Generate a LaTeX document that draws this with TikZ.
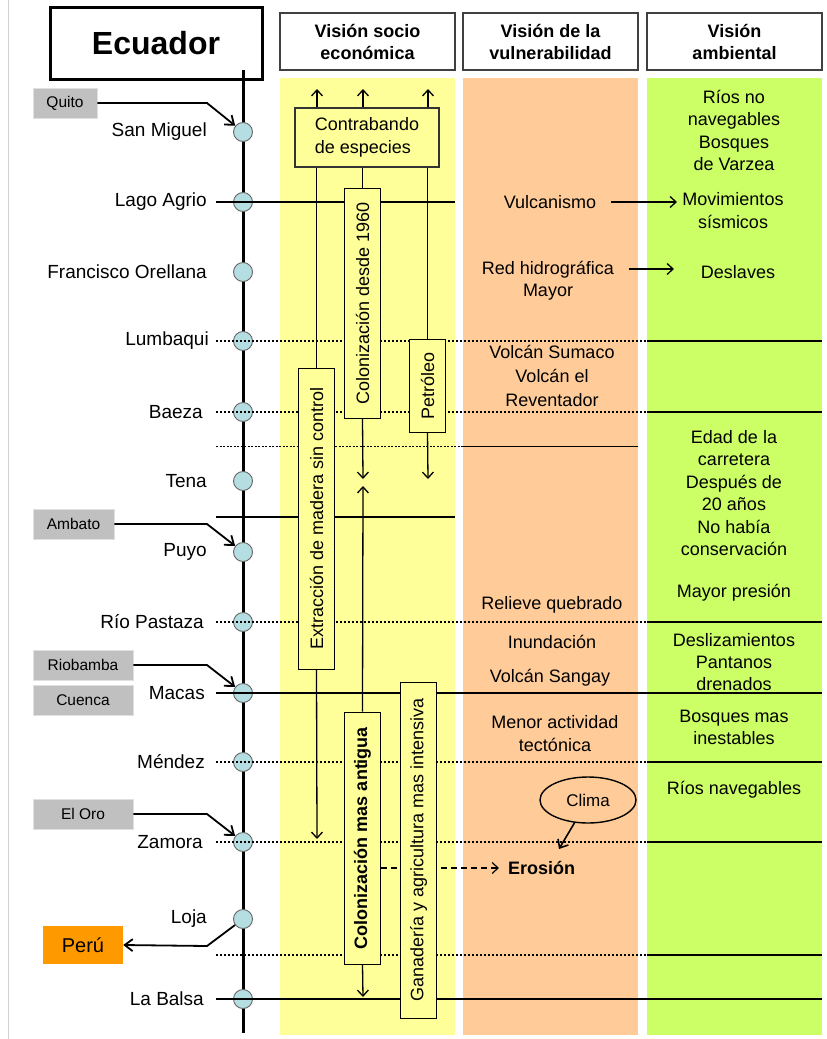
\documentclass[tikz,border=0pt]{standalone}
\usepackage{fontspec}
\setmainfont{Liberation Sans}
\usetikzlibrary{arrows.meta,shapes.geometric}
\definecolor{colY}{RGB}{255,255,153}
\definecolor{colO}{RGB}{255,204,153}
\definecolor{colG}{RGB}{204,255,102}
\definecolor{stn}{RGB}{180,222,226}
\definecolor{lblgray}{RGB}{192,192,192}
\definecolor{peruc}{RGB}{255,153,0}
\begin{document}
\begin{tikzpicture}[x=1pt,y=-1pt,
  body/.style={font=\fontsize{18}{22.4}\selectfont, align=center, inner sep=0pt},
  stlabel/.style={font=\fontsize{19}{22}\selectfont, anchor=east, inner sep=0pt},
  station/.style={circle, draw=black!60, fill=stn, line width=0.9pt, minimum size=19pt, inner sep=0pt},
  hdr/.style={draw=black!75, line width=1.6pt, fill=white, font=\bfseries\fontsize{18}{22}\selectfont, align=center, minimum width=175pt, minimum height=57pt, inner sep=0pt},
  glabel/.style={fill=lblgray, draw=black!12, line width=0.8pt, font=\fontsize{15.5}{18}\selectfont, inner sep=0pt, minimum height=30pt},
  vbox/.style={draw=black, fill=colY, line width=1pt, rotate=90, font=\fontsize{18}{20}\selectfont, inner sep=0pt, minimum height=36pt},
  conn/.style={line width=1.3pt},
  arr/.style={line width=1.3pt, -{Straight Barb[length=6pt,width=11pt]}},
  bigarr/.style={line width=1.8pt, -{Straight Barb[length=8pt,width=12pt]}},
  solidln/.style={line width=1.7pt},
  dotln/.style={line width=2pt, dash pattern=on 2pt off 2pt},
  thinln/.style={line width=1pt},
  thindot/.style={line width=1pt, dash pattern=on 2pt off 1.5pt},
]
\useasboundingbox (0,0) rectangle (827,1039);
\fill[white] (0,0) rectangle (827,1039);
\draw[black!18, line width=0.8pt] (8,0) -- (8,1039);

% column backgrounds
\fill[colY] (280,78) rectangle (455,1035);
\fill[colO] (463,78) rectangle (638,1035);
\fill[colG] (647,78) rectangle (822,1035);

% headers
\node[hdr] (h1) at (367.5,41.5) {Visión socio\\económica};
\node[hdr] (h2) at (550.5,41.5) {Visión de la\\vulnerabilidad};
\node[hdr] (h3) at (734.5,41.5) {Visión\\ambiental};

% Ecuador box and spine
\node[draw, line width=3pt, fill=white, minimum width=212pt, minimum height=72pt, inner sep=0pt,
      font=\bfseries\fontsize{32}{36}\selectfont] (ecuador) at (156,43) {Ecuador};
\coordinate (sptop) at (243,70);
\coordinate (spbot) at (243,1033);
\draw[line width=3pt] (sptop) -- (spbot);

% stations
\foreach \n/\y in {sanmiguel/132, lagoagrio/202, orellana/272, lumbaqui/341, baeza/412, tena/481,
                   puyo/552, pastaza/622, macas/693, mendez/762, zamora/842, loja/919, labalsa/999}
  \node[station] (\n) at (243,\y) {};

% station labels
\node[stlabel] (t-sanmiguel) at (207,132) {San Miguel};
\node[stlabel] (t-lagoagrio) at (207,202) {Lago Agrio};
\node[stlabel] (t-orellana) at (207,272) {Francisco Orellana};
\node[stlabel] (t-lumbaqui) at (209,341) {Lumbaqui};
\node[stlabel] (t-baeza) at (203,412) {Baeza};
\node[stlabel] (t-tena) at (207,481) {Tena};
\node[stlabel] (t-puyo) at (207,552) {Puyo};
\node[stlabel] (t-pastaza) at (204,622) {Río Pastaza};
\node[stlabel] (t-macas) at (205,693) {Macas};
\node[stlabel] (t-mendez) at (205,762) {Méndez};
\node[stlabel] (t-zamora) at (203,842) {Zamora};
\node[stlabel] (t-loja) at (207,919) {Loja};
\node[stlabel] (t-labalsa) at (204,999) {La Balsa};

% horizontal lines
\draw[solidln] (216,202) -- (455,202);
\foreach \y in {341,412,622,762,842,955}{
  \draw[dotln] (216,\y) -- (647,\y);
  \draw[solidln] (647,\y) -- (822,\y);
}
\draw[thindot] (216,446) -- (463,446);
\draw[thinln] (463,446) -- (638,446);
\draw[solidln] (216,517) -- (455,517);
\draw[solidln] (216,693) -- (822,693);
\draw[solidln] (216,999) -- (822,999);

% grey city labels and arrows
\node[glabel, minimum width=64pt] (quito) at (65,103) {Quito};
\node[glabel, minimum width=81pt] (ambato) at (73.5,524) {Ambato};
\node[glabel, minimum width=100pt] (riobamba) at (83,665) {Riobamba};
\node[glabel, minimum width=100pt] (cuenca) at (83,700) {Cuenca};
\node[glabel, minimum width=100pt] (eloro) at (83,814) {El Oro};
\node[fill=peruc, minimum width=80pt, minimum height=38pt, inner sep=0pt,
      font=\fontsize{20}{24}\selectfont] (peru) at (83,945) {Perú};

\coordinate (bq) at (207,103);
\coordinate (ba) at (207,524);
\coordinate (br) at (207,665);
\coordinate (be) at (207,814);
\coordinate (bp) at (207,946);
\draw[bigarr] (quito.east) -- (bq) -- (sanmiguel);
\draw[bigarr] (ambato.east) -- (ba) -- (puyo);
\draw[bigarr] (riobamba.east) -- (br) -- (macas);
\draw[bigarr] (eloro.east) -- (be) -- (zamora);
\draw[bigarr] (loja) -- (bp) -- (peru.east);

% socio-economic column
\node[draw=black!80, fill=colY, line width=1.2pt, minimum width=144pt, minimum height=59pt,
      align=left, font=\fontsize{18}{22.4}\selectfont, inner sep=0pt] (contra) at (367,137.5)
      {Contrabando\\de especies};
\coordinate (up1) at (317,89);
\coordinate (up2) at (363,89);
\coordinate (up3) at (428,89);
\draw[arr] (contra.north -| up1) -- (up1);
\draw[arr] (contra.north -| up2) -- (up2);
\draw[arr] (contra.north -| up3) -- (up3);

\node[vbox, minimum width=301pt] (extr) at (316.5,518.5) {Extracción de madera sin control};
\node[vbox, minimum width=230pt] (col1) at (362.5,303) {Colonización desde 1960};
\node[vbox, minimum width=93pt] (pet) at (427.5,385.5) {Petróleo};
\node[vbox, minimum width=252pt, font=\bfseries\fontsize{18}{20}\selectfont] (col2) at (362.5,838) {Colonización mas antigua};

\draw[conn] (contra.south -| extr.center) -- (extr.east);
\draw[conn] (contra.south -| col1.center) -- (col1.east);
\draw[conn] (contra.south -| pet.center) -- (pet.east);

\coordinate (etip) at (317,839);
\coordinate (c1tip) at (363,479);
\coordinate (c2tip) at (363,486);
\coordinate (c3tip) at (363,997);
\coordinate (ptip) at (428,479);
\draw[arr] (extr.west) -- (etip);
\draw[arr] (col1.west) -- (c1tip);
\draw[arr] (pet.west) -- (ptip);
\draw[arr] (col2.east) -- (c2tip);
\draw[arr] (col2.west) -- (c3tip);

\node[font=\bfseries\fontsize{18}{22}\selectfont, anchor=west, inner sep=0pt] (erosion) at (508,868) {Erosión};
\draw[line width=1.2pt, dash pattern=on 6pt off 4pt, -{Straight Barb[length=6pt,width=11pt]}, shorten >=9pt]
  (col2.south |- erosion.west) -- (erosion.west);

\node[vbox, minimum width=336pt] (gan) at (418.5,850) {Ganadería y agricultura mas intensiva};

% vulnerability column
\node[body] (vulc) at (550,202) {Vulcanismo};
\node[body] (red) at (548,280.5) {Red hidrográfica\\Mayor};
\node[body, font=\fontsize{18}{24}\selectfont] (sumaco) at (552,376) {Volcán Sumaco\\Volcán el\\Reventador};
\node[body] (relieve) at (552,605) {Relieve quebrado};
\node[body] (inund) at (552,642) {Inundación};
\node[body] (sangay) at (550,678) {Volcán Sangay};
\node[body] (menor) at (555,733.5) {Menor actividad\\tectónica};
\node[ellipse, draw, line width=1.4pt, minimum width=96pt, minimum height=46pt, inner sep=0pt,
      font=\fontsize{17}{20}\selectfont] (clima) at (588,800) {Clima};
\coordinate (climatip) at (559,849);
\draw[line width=1.6pt, -{Straight Barb[length=7pt,width=12pt]}] (clima) -- (climatip);

% environmental column
\node[body] (rios) at (734,130.5) {Ríos no\\navegables\\Bosques\\de Varzea};
\node[body] (mov) at (733,210.5) {Movimientos\\sísmicos};
\node[body] (desl) at (738,272) {Deslaves};
\node[body] (edad) at (734,493) {Edad de la\\carretera\\Después de\\20 años\\No había\\conservación};
\node[body] (presion) at (734,593) {Mayor presión};
\node[body] (deslz) at (734,662) {Deslizamientos\\Pantanos\\drenados};
\node[body] (bosq) at (734,727.5) {Bosques mas\\inestables};
\node[body] (riosnav) at (734,790) {Ríos navegables};

\coordinate (vstart) at (611,202);
\coordinate (vtip) at (677,202);
\coordinate (rstart) at (629,269);
\coordinate (rtip) at (674,269);
\draw[arr] (vstart) -- (vtip);
\draw[arr] (rstart) -- (rtip);
\end{tikzpicture}
\end{document}
